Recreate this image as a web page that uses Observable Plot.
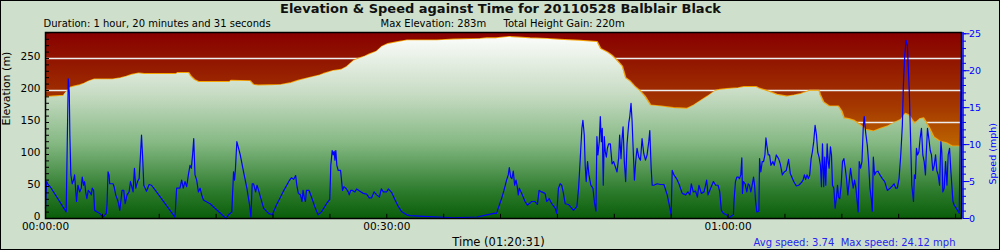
<!DOCTYPE html>
<html><head><meta charset="utf-8">
<script src="https://cdn.jsdelivr.net/npm/d3@7"></script>
<script src="https://cdn.jsdelivr.net/npm/@observablehq/plot@0.6"></script>
<style>
html,body{margin:0;padding:0;background:#cee0cb;}
#chart svg{display:block;outline:1px solid #000;outline-offset:-1px;}
</style></head><body><div id="chart"></div>
<script>
const titleText = "Elevation & Speed against Time for 20110528 Balblair Black";
const durationText = "Duration: 1 hour, 20 minutes and 31 seconds";
const maxElevText = "Max Elevation: 283m";
const gainText = "Total Height Gain: 220m";
const timeLabel = "Time (01:20:31)";
const speedSummary = "Avg speed: 3.74  Max speed: 24.12 mph";
const totalMinutes = 80.52;
const elevTicks = [0, 50, 100, 150, 200, 250];
const speedTicks = [0, 5, 10, 15, 20, 25];
const timeTickLabels = [0, 30, 60];

// [minutes, metres]
const elevation = [[0,189],[0.6,190],[1.6,191],[1.7,194],[2.2,204],[2.6,206],[3.0,207.5],[3.4,210],[3.8,213.5],[4.3,216.6],[5.9,216.6],[6.6,218.7],[7.1,221],[7.6,224],[8.2,226],[8.7,225],[11.5,225],[11.6,226.6],[12.6,226.6],[12.8,221],[13.1,216],[13.5,212.5],[16.2,212.5],[16.3,214.5],[18.0,214],[18.3,208],[18.7,207],[19.7,207.5],[20.7,208],[21.6,211],[22.2,214.5],[23.1,218.7],[24.1,223],[24.4,225],[25.3,230],[26.0,231.7],[26.5,236.4],[27.1,245.8],[27.5,249],[28.1,252.6],[28.5,256],[29.1,260],[29.6,268],[30.1,272],[31.0,275],[31.8,277.6],[34.4,277.6],[35.9,279],[38.2,280],[38.8,281],[39.6,281],[40.8,283],[42.6,281],[44.1,280],[45.2,278.6],[47.0,277],[48.5,275],[48.8,264.5],[49.4,259],[49.8,254],[50.2,247],[50.7,237],[51.0,218.7],[51.4,213.6],[51.8,205.7],[52.3,198],[52.7,190],[53.2,176],[54.1,174.5],[55.2,172],[56.4,170.8],[57.0,176],[57.6,183],[58.2,190],[58.9,199],[59.3,200.5],[59.9,201.6],[60.9,203],[61.4,204.7],[62.5,204.7],[62.8,202],[63.7,197],[64.3,192.7],[65.2,190],[65.8,191.7],[66.4,193.8],[67.2,199],[68.0,199],[68.1,192.7],[68.4,181],[68.9,174.5],[69.7,174.5],[70.0,166.7],[70.2,156],[70.6,154.7],[71.1,152],[71.6,145.8],[72.1,138],[72.8,135.5],[73.4,139.6],[74.0,143],[74.7,149.5],[75.2,153.6],[75.6,163],[75.9,160.5],[76.4,147.4],[76.9,155],[77.2,156],[77.7,140.6],[78.1,126],[78.6,119.8],[79.2,117],[79.7,112],[80.52,112]];

// [minutes, mph]
const speed = [[0,1.4],[0.1,5.0],[0.2,4.7],[0.5,4.1],[1.82,0.9],[1.91,9.9],[2.0,18.9],[2.09,17.1],[2.14,11.3],[2.23,5.9],[2.35,4.7],[2.47,5.2],[2.56,5.9],[2.64,4.1],[2.73,2.3],[2.85,4.5],[3.0,3.6],[3.14,4.1],[3.23,5.6],[3.35,4.5],[3.44,5.0],[3.53,3.6],[3.64,2.7],[3.76,3.8],[3.88,3.6],[4.03,3.2],[4.11,4.1],[4.23,3.8],[4.32,1.1],[4.76,0.7],[5.06,0.2],[5.35,0.7],[5.41,2.0],[5.5,6.3],[5.59,5.9],[5.64,4.7],[5.94,4.7],[6.03,4.3],[6.17,3.2],[6.38,2.3],[6.53,1.1],[6.62,2.3],[6.73,3.8],[6.88,3.8],[7.0,2.0],[7.17,3.2],[7.35,3.6],[7.47,5.0],[7.59,4.3],[7.7,3.6],[7.82,6.8],[7.94,4.1],[8.09,5.0],[8.23,5.4],[8.35,8.6],[8.44,11.3],[8.53,8.6],[8.64,4.5],[8.88,3.7],[9.11,4.6],[9.32,4.5],[9.76,3.6],[11.38,0.2],[11.53,4.1],[11.82,4.1],[11.97,5.2],[12.11,4.1],[12.26,5.0],[12.41,4.3],[12.56,5.9],[12.7,7.2],[12.82,6.8],[12.94,8.8],[13.03,10.8],[13.14,5.9],[13.29,5.2],[13.44,3.6],[13.59,4.1],[13.73,3.2],[13.88,2.5],[14.47,2.0],[15.88,0],[16.09,0.5],[16.38,0.9],[16.53,6.3],[16.62,5.2],[16.7,6.8],[16.82,10.4],[16.94,9.7],[17.12,8.6],[17.41,6.3],[17.7,4.1],[17.94,1.8],[18.06,0.2],[18.17,4.7],[18.29,4.7],[18.47,3.6],[18.59,4.5],[18.73,3.8],[19.17,1.4],[19.61,0.7],
[19.94,0.5],[20.29,1.8],[20.88,3.6],[21.46,5.2],[21.61,5.5],[21.82,5.3],[21.99,5.8],[22.11,4.3],[22.23,3.4],[22.41,3.2],[22.55,2.3],[22.64,3.8],[22.76,2.7],[22.85,2.3],[22.94,3.8],[23.17,3.8],[23.38,2.9],[23.67,1.6],[23.96,0.5],[24.26,0.9],[24.7,2.0],[24.99,2.6],[25.08,7.2],[25.2,9.2],[25.29,8.6],[25.38,9.1],[25.44,7.9],[25.52,9.2],[25.61,7.2],[25.73,6.5],[25.94,6.5],[26.02,5.2],[26.11,3.8],[26.23,4.3],[26.41,4.1],[26.61,3.6],[26.7,3.2],[26.82,3.8],[26.99,3.8],[27.2,3.6],[27.35,4.0],[27.64,3.7],[27.94,3.4],[28.23,3.3],[28.46,2.8],[28.67,2.8],[28.88,3.6],[29.11,3.2],[29.35,2.9],[29.52,4.0],[29.7,3.6],[29.99,3.6],[30.14,4.0],[30.44,3.5],[30.73,2.5],[31.02,1.6],[31.32,0.9],[31.76,0.5],[32.05,0.4],[33.23,0.3],[35.88,0.1],[37.94,0.2],[38.82,0.5],[39.41,0.7],
[39.65,0.7],[39.8,1.4],[40.09,2.7],[40.3,3.8],[40.53,5.2],[40.68,5.9],[40.77,6.9],[40.89,5.6],[41.0,5.4],[41.12,6.4],[41.24,4.5],[41.36,5.2],[41.47,4.3],[41.56,3.2],[41.65,4.1],[41.86,3.4],[42.15,2.3],[42.36,1.8],[42.74,2.3],[43.03,2.3],[43.24,1.9],[43.39,3.8],[43.62,3.6],[43.91,3.4],[44.06,2.3],[44.27,2.7],[44.5,2.0],[44.8,1.4],[44.94,0.7],[45.09,4.1],[45.24,4.7],[45.38,4.5],[45.53,3.4],[45.68,2.0],[45.97,1.9],[46.41,1.1],[46.71,1.6],[46.86,4.1],[47.0,7.9],[47.15,12.2],[47.24,13.3],[47.36,11.3],[47.44,7.2],[47.53,5.0],[47.65,7.7],[47.77,5.9],[47.94,4.5],[48.12,4.1],[48.27,2.0],[48.39,1.0],[48.47,11.1],[48.56,8.6],[48.68,10.4],[48.77,13.8],[48.86,10.4],[48.94,12.2],[49.03,4.5],[49.12,11.1],[49.21,9.0],[49.3,8.3],[49.39,9.5],[49.5,10.1],[49.65,10.1],[49.8,7.4],[49.94,7.7],[50.09,7.0],[50.24,6.3],[50.39,8.3],[50.47,11.3],[50.59,8.1],[50.68,10.8],[50.77,12.4],[50.88,7.7],[51.0,5.0],[51.12,10.1],[51.27,12.9],[51.36,13.8],[51.47,15.6],[51.56,13.3],[51.65,9.7],[51.77,5.2],[51.88,7.7],[52.0,9.5],[52.15,8.3],[52.3,7.9],[52.44,10.8],[52.59,8.8],[52.74,7.9],[52.88,8.6],[53.03,10.4],[53.12,11.9],[53.24,6.8],[53.33,4.5],[53.47,4.5],[53.77,4.7],[54.06,4.6],[54.36,4.6],[54.65,3.2],[54.89,1.4],[55.0,0.5],[55.09,6.5],[55.24,5.9],[55.47,5.4],[55.68,4.7],[55.97,3.4],[56.27,3.2],[56.47,3.6],[56.65,3.2],[56.77,4.7],[56.94,3.6],[57.15,3.7],[57.3,2.9],[57.44,4.5],[57.65,3.4],[57.89,3.6],[58.12,5.2],[58.24,3.2],[58.47,4.1],[58.71,5.0],[58.91,4.5],[59.12,4.5],[59.27,3.6],[59.41,1.1],
[59.59,0.7],[59.88,0.5],[60.03,0.1],[60.18,0.2],[60.47,0.5],[60.53,2.5],[60.65,5.0],[60.77,5.6],[60.91,5.6],[61.0,5.4],[61.12,5.9],[61.21,8.2],[61.27,3.4],[61.35,5.0],[61.5,4.7],[61.65,3.6],[61.77,4.7],[61.88,4.5],[62.0,3.6],[62.12,4.5],[62.24,5.6],[62.33,4.5],[62.41,2.5],[62.53,0.9],[62.71,1.0],[62.77,8.1],[62.88,6.3],[63.0,7.7],[63.12,7.7],[63.24,8.6],[63.33,10.9],[63.41,9.9],[63.53,8.6],[63.65,8.6],[63.77,7.2],[63.94,7.7],[64.06,7.2],[64.24,8.6],[64.44,8.1],[64.59,7.4],[64.77,5.9],[64.94,6.3],[65.12,6.5],[65.32,8.0],[65.47,6.1],[65.77,5.0],[66.0,4.4],[66.21,4.5],[66.41,4.8],[66.59,5.2],[66.71,5.9],[66.82,5.3],[66.94,5.9],[67.06,5.4],[67.18,5.9],[67.3,8.1],[67.41,9.0],[67.53,10.4],[67.65,12.6],[67.77,11.3],[67.88,9.0],[68.0,8.3],[68.12,7.2],[68.21,4.3],[68.3,10.1],[68.41,4.3],[68.5,8.3],[68.59,4.5],[68.71,10.1],[68.8,7.7],[68.88,6.8],[69.0,9.7],[69.09,8.6],[69.18,4.5],[69.3,4.1],[69.41,1.4],[69.53,2.9],[69.62,4.5],[69.71,2.9],[69.82,2.7],[69.94,4.5],[70.06,7.7],[70.18,8.1],[70.3,6.8],[70.41,5.4],[70.53,3.2],[70.65,5.0],[70.77,6.8],[70.88,5.4],[71.0,4.1],[71.12,5.2],[71.24,4.1],[71.35,2.3],[71.44,0.9],[71.53,7.7],[71.65,6.8],[71.77,7.7],[71.88,12.2],[71.97,13.8],[72.09,11.7],[72.24,9.9],[72.35,7.7],[72.47,4.1],[72.59,2.7],[72.68,1.0],[72.77,8.3],[72.88,5.9],[73.0,6.3],[73.18,6.4],[73.35,5.9],[73.56,5.4],[73.77,5.0],[74.0,3.8],[74.24,4.1],[74.44,4.4],[74.59,4.7],[74.74,4.1],[74.88,4.1],[75.03,5.4],[75.18,8.6],[75.32,12.6],[75.41,18.0],[75.53,22.1],[75.65,24.1],[75.76,23.5],[75.85,20.3],[75.94,16.7],[76.06,9.9],[76.15,4.5],[76.24,3.2],[76.3,2.3],[76.38,5.9],[76.47,5.4],[76.56,9.5],[76.65,8.6],[76.77,9.0],[76.88,10.8],[77.0,12.2],[77.12,8.6],[77.24,7.7],[77.35,5.9],[77.41,8.3],[77.53,12.2],[77.65,10.8],[77.77,9.2],[77.88,8.6],[78.0,6.5],[78.12,7.2],[78.24,8.6],[78.35,6.5],[78.47,5.9],[78.59,4.5],[78.71,10.4],[78.79,9.0],[78.88,3.6],[79.0,4.1],[79.12,7.7],[79.24,4.5],[79.35,8.6],[79.47,9.5],[79.59,6.3],[79.71,3.6],[79.77,2.3],[79.88,1.8],[80.18,1.1],[80.32,0.7],[80.41,11.3],[80.52,22.3]];

const bgStops = [[0,"#870000"],[0.4,"#a43800"],[0.6,"#bb6200"],[0.8,"#d09400"],[1,"#dcb020"]];
const fillStops = [[0,"#ffffff"],[0.33,"#c8dcc4"],[0.6,"#84b882"],[0.85,"#2e7c2e"],[1,"#0a5e0a"]];

const ELEV_MAX = 290.6;          // top of the elevation scale (m)
const K = 288.6 / 25;            // metres of plot height per mph on the right axis
const elevData = elevation.map(([t, e]) => ({t, e}));
const speedData = speed.map(([t, s]) => ({t, s}));
const pad = n => String(n).padStart(2, "0");
const fmtTime = m => `${pad(Math.floor(m / 60))}:${pad(m % 60)}:00`;

function backdrop(index, scales, values, dims) {
  const g = d3.create("svg:g");
  const defs = g.append("defs");
  const y1 = dims.marginTop, y2 = dims.height - dims.marginBottom;
  const mk = (id, stops) => {
    const lg = defs.append("linearGradient").attr("id", id)
      .attr("gradientUnits", "userSpaceOnUse")
      .attr("x1", 0).attr("x2", 0).attr("y1", y1).attr("y2", y2);
    stops.forEach(([o, c]) => lg.append("stop").attr("offset", o).attr("stop-color", c));
  };
  mk("bgGrad", bgStops);
  mk("elevGrad", fillStops);
  g.append("rect")
    .attr("x", dims.marginLeft).attr("y", y1)
    .attr("width", dims.width - dims.marginLeft - dims.marginRight)
    .attr("height", y2 - y1)
    .attr("fill", "url(#bgGrad)");
  return g.node();
}

const pxPerMin = (1000 - 45 - 39) / totalMinutes;

const chart = Plot.plot({
  width: 1000, height: 250,
  marginLeft: 45, marginRight: 39, marginTop: 32, marginBottom: 32,
  x: {domain: [0, totalMinutes], axis: null},
  y: {domain: [0, ELEV_MAX], axis: null},
  style: {background: "#cee0cb", fontFamily: "DejaVu Sans", fontSize: "10px", color: "#000"},
  marks: [
    backdrop,
    Plot.ruleY(d3.range(50, 251, 50), {stroke: "#eeeeee", strokeWidth: 1.5}),
    Plot.line(elevData, {x: "t", y: "e", stroke: "#f5a300", strokeWidth: 1.6, dy: -0.6}),
    Plot.areaY(elevData, {x: "t", y: "e", fill: "url(#elevGrad)"}),
    Plot.line(speedData, {x: "t", y: d => d.s * K, stroke: "#0000ff", strokeWidth: 1.2}),
    // inner ticks
    Plot.ruleY(d3.range(10, ELEV_MAX, 10), {x1: 0, x2: 4 / pxPerMin, stroke: "#000"}),
    Plot.ruleX(d3.range(5, totalMinutes, 5), {y1: 0, y2: 6.5, stroke: "#000"}),
    Plot.frame({stroke: "#000", strokeWidth: 1.5}),
    // left axis
    Plot.axisY(elevTicks, {anchor: "left", tickSize: 0, tickPadding: 5, dy: -1.5, fontSize: 10.5, label: null}),
    Plot.text([["Elevation (m)"]], {text: d => d[0], frameAnchor: "left", dx: -39.5, rotate: -90, fontSize: 11}),
    // right axis
    Plot.ruleX([totalMinutes], {stroke: "#0000ff", strokeWidth: 1.5, dx: 1.5}),
    Plot.ruleY(d3.range(0, 26, 1).map(s => s * K), {x1: totalMinutes, x2: totalMinutes + 3.5 / pxPerMin, stroke: "#0000ff", dx: 1.5}),
    Plot.axisY(speedTicks.map(s => s * K), {anchor: "right", tickSize: 6, tickPadding: 0, dx: 1.5,
      tickFormat: v => Math.round(v / K), fontSize: 9.5, color: "#0000ff", label: null}),
    Plot.text([["Speed (mph)"]], {text: d => d[0], frameAnchor: "right", dx: 31, dy: -2.5, rotate: -90, fontSize: 9.5, fill: "#0000ff"}),
    // bottom axis
    Plot.axisX(timeTickLabels, {anchor: "bottom", tickSize: 0, tickPadding: 4.5, tickFormat: fmtTime, fontSize: 10.5, label: null}),
    Plot.text([[timeLabel]], {text: d => d[0], frameAnchor: "bottom", dx: -5, dy: 27.5, lineAnchor: "bottom", fontSize: 11.5}),
    Plot.text([[speedSummary]], {text: d => d[0], frameAnchor: "bottom-right", dx: -6, dy: 27.5, lineAnchor: "bottom", textAnchor: "end", fontSize: 10, fill: "#2626ee"}),
    // header
    Plot.text([[titleText]], {text: d => d[0], frameAnchor: "top", dx: -3, dy: -19.5, lineAnchor: "bottom", fontSize: 13, fontWeight: "bold", fill: "#111"}),
    Plot.text([[durationText]], {text: d => d[0], frameAnchor: "top-left", dx: -2, dy: -5.5, lineAnchor: "bottom", textAnchor: "start", fontSize: 10}),
    Plot.text([[maxElevText]], {text: d => d[0], frameAnchor: "top-left", dx: 335, dy: -5.5, lineAnchor: "bottom", textAnchor: "start", fontSize: 10}),
    Plot.text([[gainText]], {text: d => d[0], frameAnchor: "top-left", dx: 458, dy: -5.5, lineAnchor: "bottom", textAnchor: "start", fontSize: 10})
  ]
});
document.getElementById("chart").append(chart);
</script></body></html>
